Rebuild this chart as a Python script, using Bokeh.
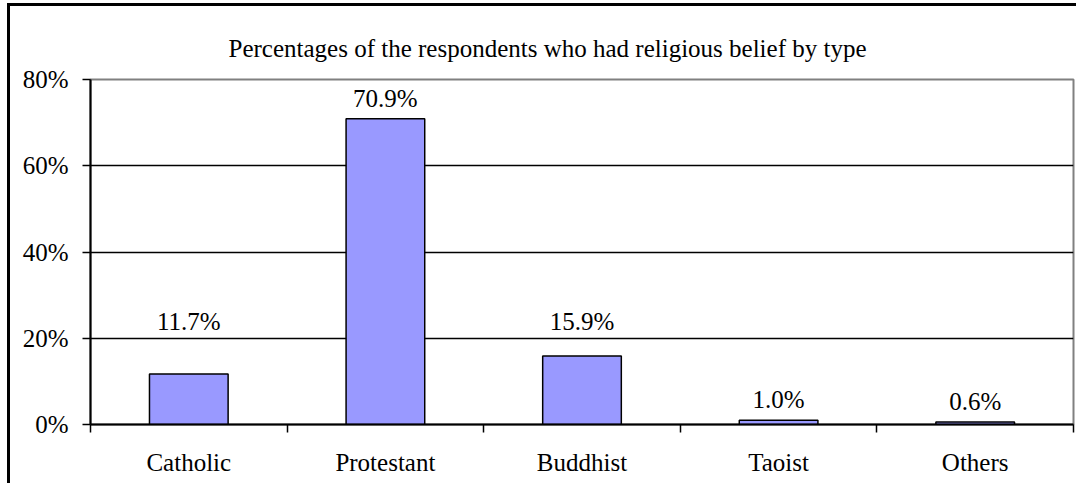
from bokeh.plotting import figure
from bokeh.models import (ColumnDataSource, FixedTicker, PrintfTickFormatter, Range1d,
                          LabelSet, Title)
from bokeh.embed import file_html
from bokeh.resources import INLINE

title_text = "Percentages of the respondents who had religious belief by type"
categories = ["Catholic", "Protestant", "Buddhist", "Taoist", "Others"]
values = [11.7, 70.9, 15.9, 1.0, 0.6]
value_labels = ["11.7%", "70.9%", "15.9%", "1.0%", "0.6%"]
y_ticks = [0, 20, 40, 60, 80]

FONT = "Liberation Serif"
FS = "25px"

# outer chart frame: border on the left/top, page offset so the frame lands at x≈7, y≈3
OFF_X, OFF_Y, BW = 7, 3, 3
W, H = 1079 - OFF_X - BW, 486 - OFF_Y - BW
p = figure(width=W, height=H, output_backend="svg", toolbar_location=None,
           x_range=Range1d(0, len(categories)), y_range=Range1d(0, 80),
           min_border_left=90 - OFF_X - BW, min_border_right=6,
           min_border_top=79 - OFF_Y - BW, min_border_bottom=62)
p.styles = {"margin-left": f"{OFF_X}px", "margin-top": f"{OFF_Y}px",
            "border-left": f"{BW}px solid black", "border-top": f"{BW}px solid black"}
p.background_fill_color = "white"
p.border_fill_color = "white"
p.outline_line_color = "#808080"
p.outline_line_width = 2

xs = [i + 0.5 for i in range(len(categories))]
# labels for the two mid-sized bars sit just above the 20% gridline, as in the original
label_y = [max(v, 20.0) if 10 <= v < 20 else v for v in values]
label_off = [8 if 10 <= v < 20 else 12 for v in values]
src = ColumnDataSource(dict(x=xs, top=values, cat=categories, lab=value_labels,
                            ly=label_y, off=label_off))

p.vbar(x="x", top="top", width=0.4, bottom=0, source=src,
       fill_color="#9999FF", line_color="black", line_width=1.5)

# x axis: labels at centres, ticks at category boundaries
p.xaxis.ticker = FixedTicker(ticks=xs, minor_ticks=list(range(len(categories) + 1)))
p.xaxis.major_label_overrides = {x: c for x, c in zip(xs, categories)}
p.xaxis.major_tick_out = 0
p.xaxis.major_tick_in = 0
p.xaxis.minor_tick_out = 8
p.xaxis.minor_tick_in = 0
p.xaxis.minor_tick_line_color = "black"
p.xaxis.minor_tick_line_width = 1.5
p.xaxis.major_label_standoff = 16

p.yaxis.ticker = FixedTicker(ticks=y_ticks)
p.yaxis.formatter = PrintfTickFormatter(format="%d%%")
p.yaxis.major_tick_out = 8
p.yaxis.major_tick_in = 0
p.yaxis.minor_tick_out = 0
p.yaxis.minor_tick_in = 0
p.yaxis.major_label_standoff = 14

for ax in (p.xaxis, p.yaxis):
    ax.axis_line_color = "black"
    ax.axis_line_width = 2
    ax.major_tick_line_color = "black"
    ax.major_tick_line_width = 1.5
    ax.major_label_text_font = FONT
    ax.major_label_text_font_size = FS
    ax.major_label_text_color = "black"

p.xgrid.visible = False
p.ygrid.ticker = FixedTicker(ticks=[t for t in y_ticks if 0 < t < 80])
p.ygrid.grid_line_color = "black"
p.ygrid.grid_line_width = 1.5

labels = LabelSet(x="x", y="ly", text="lab", source=src, text_align="center",
                  text_baseline="alphabetic", y_offset="off",
                  text_font=FONT, text_font_size=FS, text_color="black")
p.add_layout(labels)

p.add_layout(Title(text=title_text, align="left", offset=138, standoff=35,
                   text_font=FONT, text_font_size=FS, text_font_style="normal",
                   text_color="black"), "above")

open("out.html", "w").write(file_html(p, INLINE))
